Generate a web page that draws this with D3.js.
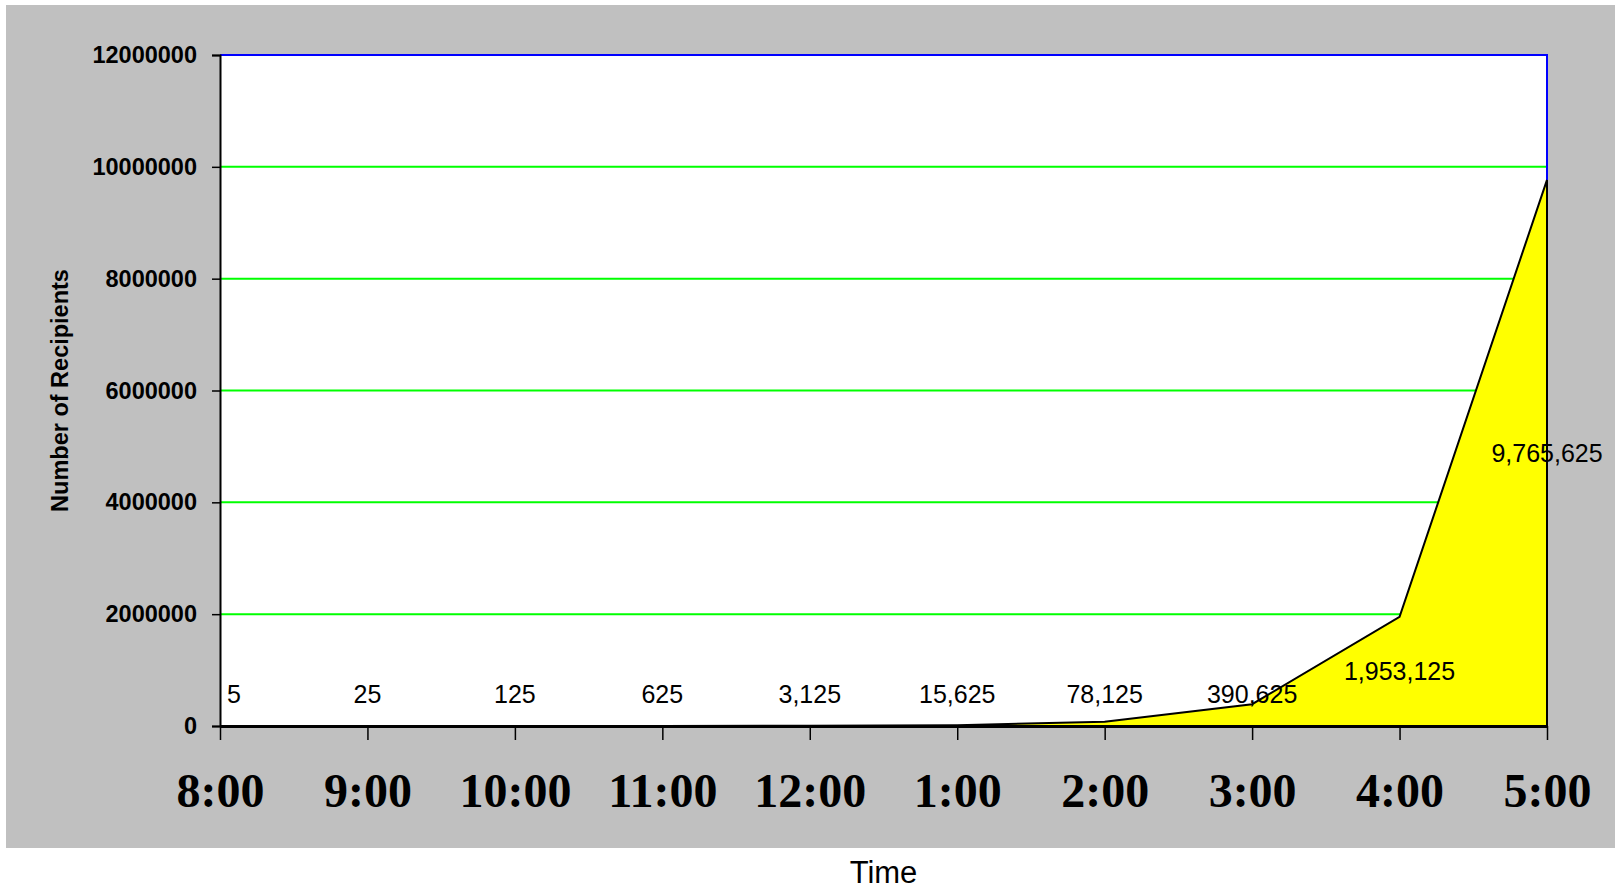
<!DOCTYPE html>
<html>
<head>
<meta charset="utf-8">
<script src="https://cdn.jsdelivr.net/npm/d3@7"></script>
<style>
	body { margin: 0; background: #fff; }
	svg { display: block; }
</style>
</head>
<body>
<svg id="chart" width="1615" height="889"></svg>
<script>
(function() {
	// data
	var times = ['8:00', '9:00', '10:00', '11:00', '12:00', '1:00', '2:00', '3:00', '4:00', '5:00'];
	var recipients = [5, 25, 125, 625, 3125, 15625, 78125, 390625, 1953125, 9765625];
	var yTicks = [0, 2000000, 4000000, 6000000, 8000000, 10000000, 12000000];

	var svg = d3.select('#chart'),
			margin = {top: 55, right: 68, bottom: 163, left: 220},
			width = +svg.attr('width') - margin.left - margin.right,
			height = +svg.attr('height') - margin.top - margin.bottom;

	// grey chart area
	svg.append('rect')
		.attr('x', 6).attr('y', 5)
		.attr('width', 1609).attr('height', 843)
		.attr('fill', '#c0c0c0');

	var g = svg.append('g').attr('transform', 'translate(' + margin.left + ',' + margin.top + ')');

	var x = d3.scalePoint().domain(times).range([0, width]);
	var y = d3.scaleLinear().domain([0, 12000000]).range([height, 0]);

	// plot background
	g.append('rect').attr('width', width).attr('height', height).attr('fill', '#fff');

	// gridlines
	g.selectAll('.grid')
		.data(yTicks.slice(1, -1))
		.enter().append('line')
		.attr('x1', 0).attr('x2', width)
		.attr('y1', function(d) { return y(d); })
		.attr('y2', function(d) { return y(d); })
		.attr('stroke', '#00ff00').attr('stroke-width', 2);

	// blue top / right border
	g.append('path')
		.attr('d', 'M0,' + y(12000000) + 'H' + width + 'V' + height)
		.attr('fill', 'none').attr('stroke', '#0000ff').attr('stroke-width', 2);

	// area
	var area = d3.area()
		.x(function(d, i) { return x(times[i]); })
		.y0(height)
		.y1(function(d) { return y(d); });
	var line = d3.line()
		.x(function(d, i) { return x(times[i]); })
		.y(function(d) { return y(d); });

	g.append('path').datum(recipients)
		.attr('d', area)
		.attr('fill', '#ffff00');
	g.append('path').datum(recipients)
		.attr('d', line)
		.attr('fill', 'none').attr('stroke', '#000').attr('stroke-width', 2);
	g.append('line')
		.attr('x1', width).attr('x2', width)
		.attr('y1', y(recipients[recipients.length - 1])).attr('y2', height)
		.attr('stroke', '#000').attr('stroke-width', 2);

	// y axis
	var yAxis = g.append('g')
		.call(d3.axisLeft(y).tickValues(yTicks).tickFormat(d3.format('d')).tickSize(8).tickPadding(15));
	yAxis.select('.domain').attr('stroke', '#000').attr('stroke-width', 2);
	yAxis.selectAll('.tick line').attr('stroke', '#000').attr('stroke-width', 1.5);
	yAxis.selectAll('text')
		.attr('font-family', 'Arial, "Liberation Sans", sans-serif')
		.attr('font-weight', 'bold').attr('font-size', '23.5px').attr('fill', '#000');

	// x axis
	var xAxis = g.append('g')
		.attr('transform', 'translate(0,' + height + ')')
		.call(d3.axisBottom(x).tickSize(14).tickPadding(0).tickSizeOuter(0));
	xAxis.select('.domain').attr('stroke', '#000').attr('stroke-width', 3);
	xAxis.selectAll('.tick line').attr('stroke', '#000').attr('stroke-width', 1.5);
	xAxis.selectAll('text')
		.attr('dy', null).attr('y', 81)
		.attr('font-family', '"Times New Roman", "Liberation Serif", serif')
		.attr('font-weight', 'bold').attr('font-size', '48px').attr('fill', '#000');

	// data labels - middle of the area, kept off the floor for the small ones
	var fmt = d3.format(',');
	g.selectAll('.label')
		.data(recipients)
		.enter().append('text')
		.attr('class', 'label')
		.attr('x', function(d, i) { return x(times[i]) + (i === 0 ? 7 : 0); })
		.attr('y', function(d) { return Math.min((y(d) + height) / 2 + 9, height - 23); })
		.attr('text-anchor', function(d, i) { return i === 0 ? 'start' : 'middle'; })
		.attr('font-family', 'Arial, "Liberation Sans", sans-serif')
		.attr('font-size', '25px').attr('fill', '#000')
		.text(function(d) { return fmt(d); });

	// axis titles
	svg.append('text')
		.attr('transform', 'translate(68,' + (margin.top + height / 2) + ') rotate(-90)')
		.attr('text-anchor', 'middle')
		.attr('font-family', 'Arial, "Liberation Sans", sans-serif')
		.attr('font-weight', 'bold').attr('font-size', '23.5px')
		.text('Number of Recipients');
	svg.append('text')
		.attr('x', margin.left + width / 2).attr('y', 883)
		.attr('text-anchor', 'middle')
		.attr('font-family', 'Arial, "Liberation Sans", sans-serif')
		.attr('font-size', '31px')
		.text('Time');
})();
</script>
</body>
</html>
